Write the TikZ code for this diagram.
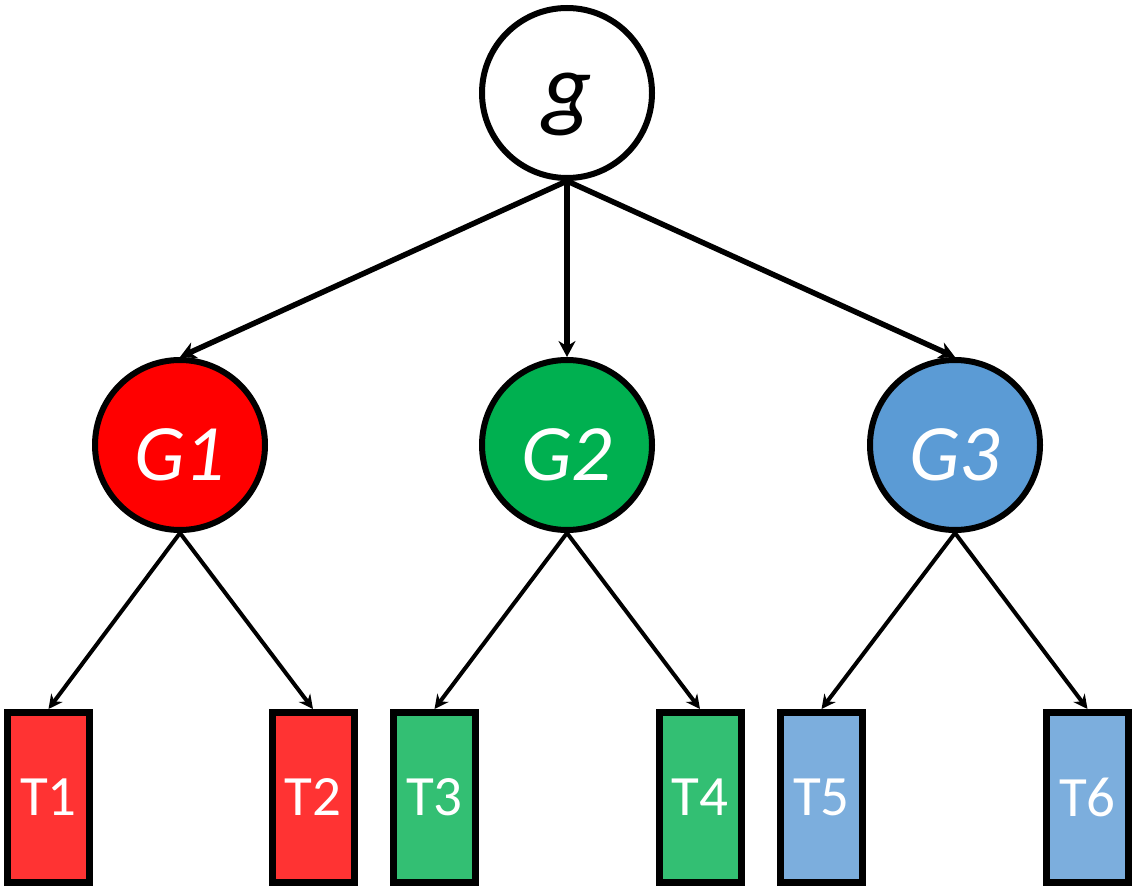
\documentclass[tikz,border=0pt]{standalone}
\usepackage{fontspec}
\setmainfont{Carlito}
\usetikzlibrary{arrows.meta}
\definecolor{cR}{HTML}{FF0000}
\definecolor{cG}{HTML}{00B050}
\definecolor{cB}{HTML}{5B9BD5}
\definecolor{tR}{HTML}{FF3333}
\definecolor{tG}{HTML}{33BF73}
\definecolor{tB}{HTML}{7CAEDD}
\newcommand{\lowered}[2]{\smash{\raisebox{-#1}{#2}}}
\tikzset{
  gnode/.style={circle, draw=black, line width=6pt, minimum size=170pt, inner sep=0pt, font=\fontsize{80}{82}\selectfont\itshape},
  tnode/.style={rectangle, draw=black, line width=7pt, minimum width=82pt, minimum height=170pt, inner sep=0pt, text=white, font=\fontsize{57}{60}\selectfont},
  bigarrow/.style={line width=5.5pt, -{Stealth[length=16pt,width=17pt]}},
  smallarrow/.style={line width=4pt, -{Stealth[length=14pt,width=14pt]}}
}
\begin{document}
\begin{tikzpicture}[x=1pt,y=-1pt]
\useasboundingbox (0,0) rectangle (1135,890);
\node[gnode, fill=white, font=\fontsize{96}{98}\selectfont\itshape] (g) at (567,93) {\lowered{27pt}{g}};
\node[gnode, fill=cR, text=white] (G1) at (180,445) {\lowered{35pt}{G1}};
\node[gnode, fill=cG, text=white] (G2) at (567,445) {\lowered{35pt}{G2}};
\node[gnode, fill=cB, text=white] (G3) at (955,445) {\lowered{35pt}{G3}};
\node[tnode, fill=tR] (T1) at (48.5,797.5) {T1};
\node[tnode, fill=tR] (T2) at (313,797.5) {T2};
\node[tnode, fill=tG] (T3) at (434.5,797.5) {T3};
\node[tnode, fill=tG] (T4) at (700,797.5) {T4};
\node[tnode, fill=tB] (T5) at (821.5,797.5) {T5};
\node[tnode, fill=tB] (T6) at (1087.5,797.5) {T6};
\draw[bigarrow] (g.south) -- (G1.north);
\draw[bigarrow] (g.south) -- (G2.north);
\draw[bigarrow] (g.south) -- (G3.north);
\draw[smallarrow] (G1.south) -- (T1.north);
\draw[smallarrow] (G1.south) -- (T2.north);
\draw[smallarrow] (G2.south) -- (T3.north);
\draw[smallarrow] (G2.south) -- (T4.north);
\draw[smallarrow] (G3.south) -- (T5.north);
\draw[smallarrow] (G3.south) -- (T6.north);
\end{tikzpicture}
\end{document}
